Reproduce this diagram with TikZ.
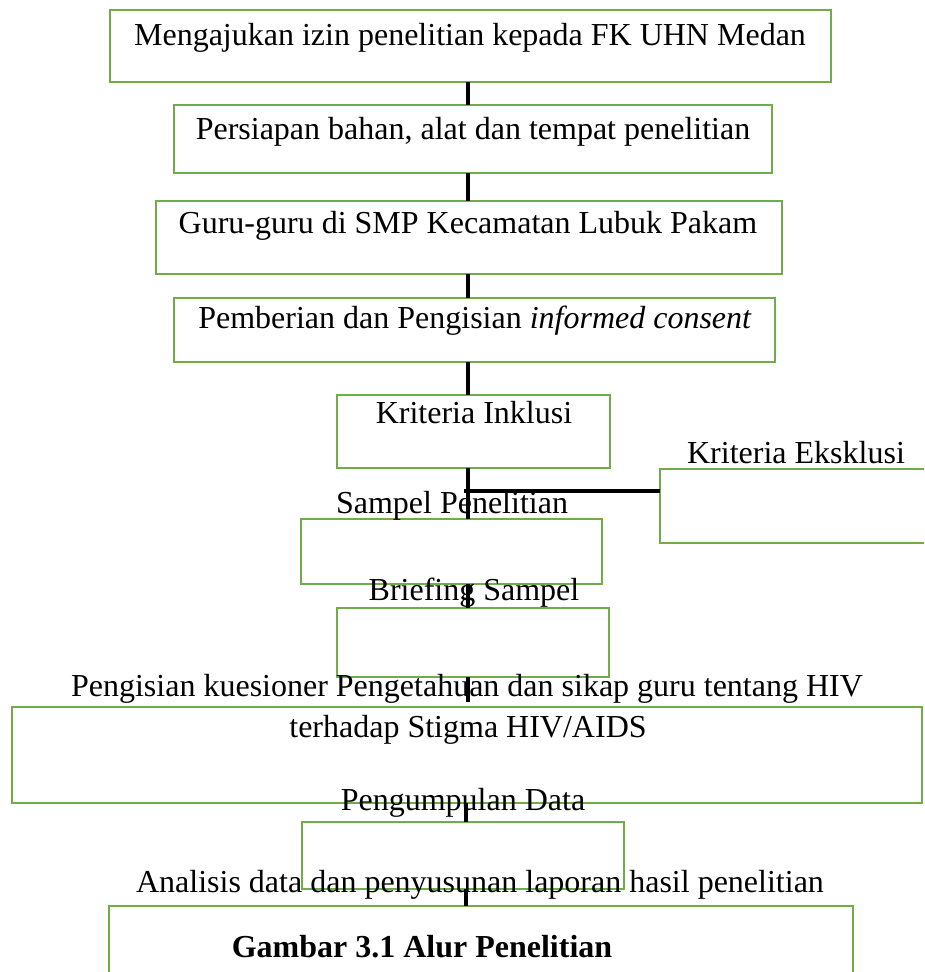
\documentclass[tikz,border=0pt]{standalone}
\usepackage{fontspec}
\setmainfont{Liberation Serif}
\definecolor{boxgreen}{HTML}{70AD47}
\tikzset{
  flowbox/.style={draw=boxgreen, line width=1pt, inner sep=0pt, outer sep=0pt, rectangle},
  lbl/.style={anchor=base, inner sep=0pt, outer sep=0pt, font=\fontsize{12}{14}\selectfont},
  conn/.style={draw=black, line width=1.4pt}
}
\newcommand{\bx}[5]{%
  \node[flowbox, minimum width={(#4-#2)*0.375pt}, minimum height={(#5-#3)*0.375pt}] (#1) at ({(#2+#4)/2},{(#3+#5)/2}) {};}
\begin{document}
\begin{tikzpicture}[x=0.375pt, y=-0.375pt]
\useasboundingbox (0,0) rectangle (924,972);
\begin{scope}
\clip (0,0) rectangle (924,972);
\bx{b1}{110}{10}{831}{82}
\bx{b2}{174}{105}{772}{173}
\bx{b3}{156}{201}{782}{274}
\bx{b4}{174}{298}{775}{362}
\bx{b5}{337}{395}{610}{468}
\bx{b6}{660}{469}{928}{543}
\bx{b7}{301}{519}{602}{584}
\bx{b8}{337}{608}{609}{677}
\bx{b9}{12}{707}{922}{803}
\bx{b10}{302}{822}{624}{889}
\bx{b11}{109}{906}{853}{990}

\node[lbl] (t1) at (470,45) {Mengajukan izin penelitian kepada FK UHN Medan};
\node[lbl] (t2) at (473,139) {Persiapan bahan, alat dan tempat penelitian};
\node[lbl] (t3) at (468,233) {Guru-guru di SMP Kecamatan Lubuk Pakam};
\node[lbl] (t4) at (475,328) {Pemberian dan Pengisian \textit{informed consent}};
\node[lbl] (t5) at (474,423) {Kriteria Inklusi};
\node[lbl] (t6) at (796,463) {Kriteria Eksklusi};
\node[lbl] (t7) at (452,513) {Sampel Penelitian};
\node[lbl] (t8) at (474,600) {Briefing Sampel};
\node[lbl] (t9a) at (467,696) {Pengisian kuesioner Pengetahuan dan sikap guru tentang HIV};
\node[lbl] (t9b) at (468,737) {terhadap Stigma HIV/AIDS};
\node[lbl] (t10) at (463,810) {Pengumpulan Data};
\node[lbl] (t11) at (480,892) {Analisis data dan penyusunan laporan hasil penelitian};
\node[lbl, font=\fontsize{12}{14}\selectfont\bfseries] (t12) at (422,957) {Gambar 3.1 Alur Penelitian};

\coordinate (sp) at (468,0);
\coordinate (sq) at (466,0);
\coordinate (j) at (464,491);
\draw[conn] (b1.south -| sp) -- (b2.north -| sp);
\draw[conn] (b2.south -| sp) -- (b3.north -| sp);
\draw[conn] (b3.south -| sp) -- (b4.north -| sp);
\draw[conn] (b4.south -| sp) -- (b5.north -| sp);
\draw[conn] (b5.south -| sp) -- (b7.north -| sp);
\draw[conn] (j) -- (j -| b6.west);
\draw[conn] (b7.south -| sp) -- (b8.north -| sp);
\draw[conn] (b8.south -| sp) -- ([yshift=2pt]b9.north -| sp);
\draw[conn] (b9.south -| sq) -- (b10.north -| sq);
\draw[conn] (b10.south -| sq) -- (b11.north -| sq);
\end{scope}
\end{tikzpicture}
\end{document}
